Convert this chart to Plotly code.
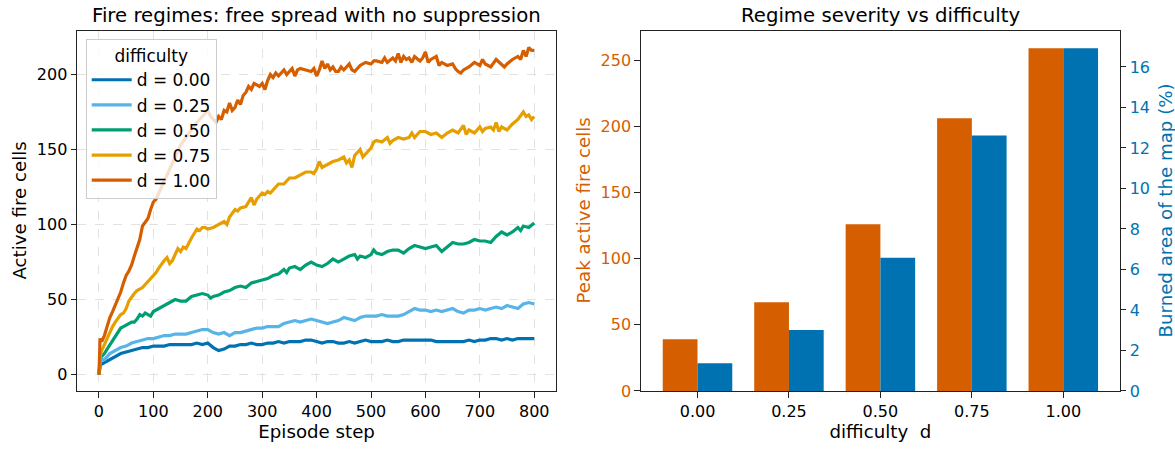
import plotly.graph_objects as go

# ---------------- data: left panel (active fire cells per episode step) ----------------
d000_steps = [0, 3, 5, 10, 20, 30, 40, 50, 60, 70, 80, 90, 100, 110, 120, 130, 140, 150, 160, 170,
              180, 190, 200, 210, 220, 230, 240, 250, 260, 270, 280, 290, 300, 310, 320, 330, 340,
              350, 360, 370, 380, 390, 400, 410, 420, 430, 440, 450, 460, 470, 480, 490, 500, 510,
              520, 530, 540, 550, 560, 570, 580, 590, 600, 610, 620, 630, 640, 650, 660, 670, 680,
              690, 700, 710, 720, 730, 740, 750, 760, 770, 780, 790, 800]
d000_vals = [0, 8, 7, 8, 10, 12, 14, 15, 16, 17, 18, 18, 19, 19, 19, 20, 20, 20, 20, 20,
             21, 20, 21, 18, 16, 17, 19, 19, 20, 20, 21, 20, 20, 21, 21, 22, 21,
             22, 22, 22, 23, 23, 22, 21, 22, 22, 21, 21, 22, 21, 22, 23, 22, 22,
             22, 23, 22, 22, 23, 23, 23, 23, 23, 23, 22, 22, 22, 22, 22, 22, 23,
             22, 23, 23, 24, 24, 23, 24, 23, 24, 24, 24, 24]

d025_steps = d000_steps
d025_vals = [0, 9, 10, 10, 14, 16, 18, 19, 21, 22, 23, 24, 24, 25, 26, 26, 27, 27, 27, 28,
             29, 30, 30, 28, 27, 28, 26, 28, 28, 29, 30, 31, 31, 32, 32, 32, 34,
             35, 36, 35, 36, 37, 36, 35, 34, 35, 36, 38, 37, 36, 38, 39, 39, 39,
             40, 39, 39, 39, 40, 42, 44, 43, 43, 42, 43, 42, 43, 44, 42, 41, 43,
             43, 44, 43, 44, 45, 44, 46, 45, 44, 47, 48, 47]

d050_steps = [0, 3, 5, 10, 15, 20, 25, 30, 35, 40, 45, 50, 55, 60, 65, 70, 75, 80, 85, 90, 95,
              100, 110, 120, 130, 140, 150, 160, 170, 180, 190, 200, 205, 210, 220, 230, 240,
              250, 260, 270, 280, 290, 300, 310, 320, 330, 340, 345, 350, 360, 365, 370, 380,
              390, 400, 410, 420, 430, 440, 450, 460, 470, 475, 480, 490, 500, 505, 510, 520,
              530, 540, 550, 560, 570, 580, 590, 600, 610, 620, 630, 640, 650, 660, 670, 680,
              690, 700, 710, 720, 730, 740, 745, 750, 760, 770, 775, 780, 790, 800]
d050_vals = [0, 13, 12, 14, 17, 20, 22, 25, 28, 31, 32, 33, 34, 35, 35, 37, 40, 39, 41, 40, 39,
             42, 44, 46, 48, 50, 49, 49, 52, 53, 54, 53, 51, 52, 53, 55, 56,
             58, 59, 58, 61, 62, 63, 64, 66, 67, 70, 68, 71, 72, 71, 70, 73,
             75, 73, 72, 74, 77, 75, 77, 79, 80, 77, 79, 78, 80, 83, 81, 80,
             82, 83, 83, 81, 84, 86, 85, 84, 85, 86, 82, 85, 88, 87, 87, 88,
             90, 89, 89, 88, 92, 95, 94, 93, 95, 98, 96, 99, 98, 101]

d075_steps = [0, 3, 5, 10, 15, 20, 25, 30, 35, 40, 45, 50, 55, 60, 65, 70, 75, 80, 85, 90, 95,
              100, 105, 110, 115, 120, 125, 130, 135, 140, 145, 150, 155, 160, 165, 170, 175,
              180, 185, 190, 195, 200, 210, 220, 230, 235, 240, 250, 255, 260, 270, 280, 285,
              290, 300, 305, 310, 315, 320, 330, 340, 345, 350, 360, 370, 380, 390, 395, 400,
              405, 410, 420, 430, 440, 450, 455, 460, 465, 470, 480, 485, 490, 500, 505, 510,
              520, 530, 535, 540, 550, 560, 570, 575, 580, 590, 600, 610, 620, 630, 640, 650,
              660, 670, 675, 680, 690, 700, 705, 710, 720, 725, 730, 735, 740, 750, 760, 770,
              780, 785, 790, 795, 800]
d075_vals = [0, 14, 16, 20, 25, 29, 32, 35, 38, 40, 41, 44, 49, 52, 54, 56, 57, 58, 60, 62, 64,
             66, 68, 71, 74, 76, 78, 74, 76, 80, 84, 82, 85, 84, 88, 91, 94,
             97, 96, 98, 98, 97, 98, 100, 102, 100, 105, 110, 109, 111, 112, 118, 113,
             117, 121, 120, 122, 121, 123, 127, 127, 129, 131, 131, 133, 135, 135, 134, 137,
             142, 138, 140, 142, 143, 145, 141, 143, 138, 146, 150, 145, 147, 151, 155, 156,
             155, 158, 154, 156, 158, 157, 158, 161, 158, 162, 162, 160, 161, 158, 161, 163,
             161, 166, 160, 163, 161, 165, 162, 164, 165, 163, 168, 162, 165, 163, 167, 170,
             175, 172, 173, 170, 172]

d100_steps = [0, 2, 5, 10, 15, 20, 25, 30, 35, 40, 45, 50, 55, 60, 65, 70, 75, 80, 85, 90, 95,
              100, 105, 110, 115, 120, 125, 130, 135, 140, 145, 150, 160, 170, 180, 190, 200,
              205, 210, 215, 220, 225, 230, 235, 240, 245, 250, 255, 260, 265, 270, 275, 280,
              285, 290, 295, 300, 305, 310, 315, 320, 325, 330, 340, 345, 350, 355, 360, 365,
              370, 380, 390, 395, 400, 405, 410, 415, 420, 425, 430, 435, 440, 445, 450, 460,
              465, 470, 480, 490, 500, 505, 510, 520, 525, 530, 540, 545, 550, 555, 560, 565,
              570, 575, 580, 590, 595, 600, 605, 610, 620, 625, 630, 640, 650, 655, 660, 665,
              670, 680, 690, 700, 705, 710, 720, 730, 740, 745, 750, 760, 770, 775, 780, 785,
              790, 795, 800]
d100_vals = [0, 24, 22, 26, 32, 38, 42, 46, 50, 55, 61, 66, 69, 73, 79, 85, 90, 99, 102, 104, 110,
             115, 117, 121, 125, 129, 133, 138, 142, 146, 150, 153, 158, 163, 168, 172, 176,
             172, 170, 168, 172, 170, 176, 175, 181, 176, 178, 183, 180, 186, 188, 192, 190,
             194, 193, 192, 194, 190, 196, 200, 198, 201, 199, 203, 200, 202, 204, 199, 203,
             204, 203, 202, 204, 199, 203, 209, 204, 207, 203, 205, 202, 202, 205, 203, 207,
             203, 202, 206, 208, 207, 209, 209, 208, 211, 208, 211, 209, 214, 208, 212, 210,
             211, 208, 212, 209, 211, 215, 208, 210, 212, 206, 208, 206, 207, 204, 202, 201,
             203, 205, 208, 206, 210, 207, 205, 210, 207, 205, 207, 210, 212, 210, 216, 212,
             218, 216, 216]

series_names = ["d = 0.00", "d = 0.25", "d = 0.50", "d = 0.75", "d = 1.00"]

# ---------------- data: right panel ----------------
difficulty = [0.0, 0.25, 0.5, 0.75, 1.0]
peak_active = [39, 67, 126, 206, 259]
burned_pct = [1.37, 3.01, 6.58, 12.62, 16.92]
diff_labels = [f"{d:.2f}" for d in difficulty]

# ---------------- style ----------------
C_BLUE = "#0072B2"
C_SKY = "#56B4E9"
C_GREEN = "#009E73"
C_ORANGE = "#E69F00"
C_VERM = "#D55E00"
line_colors = [C_BLUE, C_SKY, C_GREEN, C_ORANGE, C_VERM]
AX = "#222222"
FONT = "DejaVu Sans"
W, H = 1175, 451
TICK = 16
LAB = 18.2

L_DOM = [77.2 / W, 556.0 / W]
R_DOM = [641.0 / W, 1119.8 / W]
Y_DOM = [1 - 399.8 / H, 1 - 31.8 / H]
Y_MID = sum(Y_DOM) / 2

fig = go.Figure()

all_steps = [d000_steps, d025_steps, d050_steps, d075_steps, d100_steps]
all_vals = [d000_vals, d025_vals, d050_vals, d075_vals, d100_vals]
for name, st, vals, col in zip(series_names, all_steps, all_vals, line_colors):
    fig.add_trace(go.Scatter(x=st, y=vals, mode="lines", name=name,
                             line=dict(color=col, width=3.2),
                             xaxis="x", yaxis="y"))

cat_pos = list(range(len(difficulty)))
fig.add_trace(go.Bar(x=cat_pos, y=peak_active, width=0.38, offset=-0.38,
                     marker=dict(color=C_VERM, line=dict(width=0)),
                     xaxis="x2", yaxis="y2", showlegend=False, name="Peak active fire cells"))
fig.add_trace(go.Bar(x=cat_pos, y=burned_pct, width=0.38, offset=0.0,
                     marker=dict(color=C_BLUE, line=dict(width=0)),
                     xaxis="x2", yaxis="y3", showlegend=False, name="Burned area (%)"))

common = dict(showline=True, linecolor=AX, linewidth=1.3, ticks="outside", ticklen=5.5,
              tickwidth=1.3, tickcolor=AX, zeroline=False, tickfont=dict(size=TICK, color="black"))
grid = dict(showgrid=True, gridcolor="#e2e2e2", griddash="dash", gridwidth=1)

fig.update_layout(
    width=W, height=H,
    margin=dict(l=0, r=0, t=0, b=0),
    paper_bgcolor="white", plot_bgcolor="white",
    font=dict(family=FONT, color="black", size=TICK),
    barmode="overlay",
    xaxis=dict(domain=L_DOM, anchor="y", range=[-40, 840],
               tickvals=list(range(0, 801, 100)), mirror=True,
               title=dict(text="Episode step", font=dict(size=LAB), standoff=5),
               **common, **grid),
    yaxis=dict(domain=Y_DOM, anchor="x", range=[-10.9, 228.9],
               tickvals=list(range(0, 201, 50)), mirror=True,
               **common, **grid),
    xaxis2=dict(domain=R_DOM, anchor="y2", range=[-0.618, 4.618],
                tickvals=cat_pos, ticktext=diff_labels, mirror=True, showgrid=False,
                title=dict(text="difficulty\u00a0 d", font=dict(size=LAB), standoff=5),
                **common),
    yaxis2=dict(domain=Y_DOM, anchor="x2", range=[0, 271.95],
                tickvals=list(range(0, 251, 50)), showgrid=False,
                **{**common, "tickfont": dict(size=TICK, color=C_VERM)}),
    yaxis3=dict(overlaying="y2", side="right", anchor="x2", range=[0, 17.77],
                tickvals=list(range(0, 17, 2)), showgrid=False,
                **{**common, "tickfont": dict(size=TICK, color=C_BLUE)}),
    legend=dict(x=85.7 / W, y=1 - 40 / H, xanchor="left", yanchor="top",
                bgcolor="rgba(255,255,255,0.8)", bordercolor="#cccccc", borderwidth=1,
                font=dict(size=17), itemwidth=40, tracegroupgap=0,
                title=dict(text="difficulty", side="top center", font=dict(size=17))),
    annotations=[
        dict(text="Fire regimes: free spread with no suppression", x=sum(L_DOM) / 2, y=1 - 16 / H,
             xref="paper", yref="paper", xanchor="center", yanchor="middle",
             showarrow=False, font=dict(size=19.7)),
        dict(text="Regime severity vs difficulty", x=sum(R_DOM) / 2, y=1 - 16 / H,
             xref="paper", yref="paper", xanchor="center", yanchor="middle",
             showarrow=False, font=dict(size=19.7)),
        dict(text="Active fire cells", x=19.5 / W, y=Y_MID, textangle=-90,
             xref="paper", yref="paper", xanchor="center", yanchor="middle",
             showarrow=False, font=dict(size=LAB)),
        dict(text="Peak active fire cells", x=583.5 / W, y=Y_MID, textangle=-90,
             xref="paper", yref="paper", xanchor="center", yanchor="middle",
             showarrow=False, font=dict(size=LAB, color=C_VERM)),
        dict(text="Burned area of the map (%)", x=1165.5 / W, y=Y_MID, textangle=-90,
             xref="paper", yref="paper", xanchor="center", yanchor="middle",
             showarrow=False, font=dict(size=LAB, color=C_BLUE)),
    ],
)

fig.write_html("out.html",
               config={"displayModeBar": False},
               post_script="document.body.style.margin='0';document.body.style.padding='0';document.body.style.overflow='hidden';")
